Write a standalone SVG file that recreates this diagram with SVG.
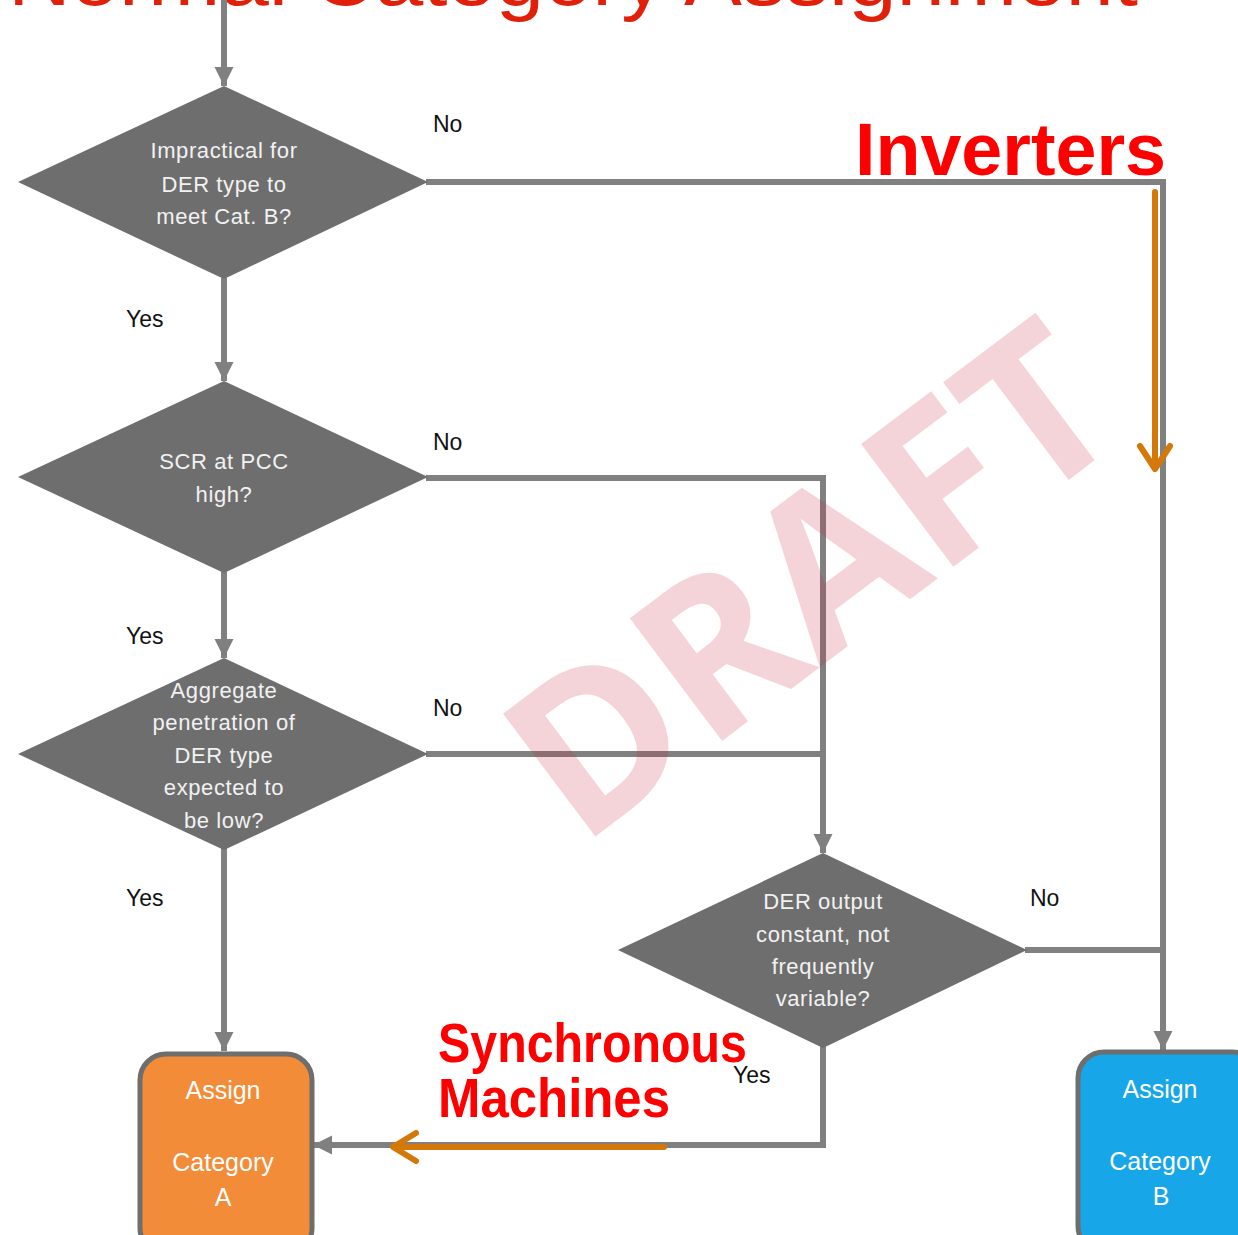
<svg xmlns="http://www.w3.org/2000/svg" width="1238" height="1235" viewBox="0 0 1238 1235">
<defs>
<style>
.dia{fill:#6e6e6e;}
.dt{font-family:"Liberation Sans",Arial,sans-serif;font-size:22px;fill:#f2f2f2;text-anchor:middle;letter-spacing:0.6px;}
.lbl{font-family:"Liberation Sans",Arial,sans-serif;font-size:23px;fill:#111;}
.ln{fill:none;stroke:#808080;stroke-width:6;}
.or{fill:none;stroke:#D4780A;stroke-width:6;stroke-linecap:round;stroke-linejoin:round;}
.red{font-family:"Liberation Sans",Arial,sans-serif;font-weight:bold;fill:#FF0000;}
.bt{font-family:"Liberation Sans",Arial,sans-serif;font-size:25px;fill:#ffffff;text-anchor:middle;}
.box{stroke:#6e6e6e;stroke-width:5;}
</style>
<marker id="ah" viewBox="0 0 10 10" refX="10" refY="5" markerWidth="3.2" markerHeight="3.2" orient="auto" markerUnits="strokeWidth">
<path d="M0,0 L10,5 L0,10 z" fill="#808080"/>
</marker>
</defs>
<rect width="1238" height="1235" fill="#ffffff"/>
<text x="8" y="5" font-family="Liberation Sans,Arial,sans-serif" font-size="80" fill="#E0200A" textLength="1130" lengthAdjust="spacingAndGlyphs">Normal Category Assignment</text>

<g id="connectors">
<line class="ln" x1="224" y1="0" x2="224" y2="86" marker-end="url(#ah)"/>
<polyline class="ln" points="426,182 1163,182 1163,1050" marker-end="url(#ah)"/>
<line class="ln" x1="224" y1="278" x2="224" y2="381" marker-end="url(#ah)"/>
<polyline class="ln" points="426,478 823,478 823,853" marker-end="url(#ah)"/>
<line class="ln" x1="224" y1="572" x2="224" y2="658" marker-end="url(#ah)"/>
<polyline class="ln" points="426,754 823,754"/>
<line class="ln" x1="224" y1="848" x2="224" y2="1051" marker-end="url(#ah)"/>
<polyline class="ln" points="1025,950 1163,950"/>
<polyline class="ln" points="823,1046 823,1145 313,1145" marker-end="url(#ah)"/>
<text class="lbl" x="433" y="132">No</text>
<text class="lbl" x="126" y="327">Yes</text>
<text class="lbl" x="433" y="450">No</text>
<text class="lbl" x="126" y="644">Yes</text>
<text class="lbl" x="433" y="716">No</text>
<text class="lbl" x="126" y="906">Yes</text>
<text class="lbl" x="1030" y="906">No</text>
<text class="lbl" x="733" y="1083">Yes</text>
</g>

<g id="d1">
<polygon class="dia" points="224,86 428,182 224,279 18,182"/>
<text class="dt" x="224" y="158">Impractical for</text>
<text class="dt" x="224" y="192">DER type to</text>
<text class="dt" x="224" y="224">meet Cat. B?</text>
</g>
<g id="d2">
<polygon class="dia" points="224,381 428,477 224,573 18,477"/>
<text class="dt" x="224" y="469">SCR at PCC</text>
<text class="dt" x="224" y="502">high?</text>
</g>
<g id="d3">
<polygon class="dia" points="224,658 428,754 224,850 18,754"/>
<text class="dt" x="224" y="698">Aggregate</text>
<text class="dt" x="224" y="730">penetration of</text>
<text class="dt" x="224" y="763">DER type</text>
<text class="dt" x="224" y="795">expected to</text>
<text class="dt" x="224" y="828">be low?</text>
</g>
<g id="d4">
<polygon class="dia" points="823,853 1027,950 823,1048 618,950"/>
<text class="dt" x="823" y="909">DER output</text>
<text class="dt" x="823" y="942">constant, not</text>
<text class="dt" x="823" y="974">frequently</text>
<text class="dt" x="823" y="1006">variable?</text>
</g>
<g id="catA">
<rect class="box" x="140" y="1054" width="172" height="200" rx="26" fill="#F28C38"/>
<text class="bt" x="223" y="1099">Assign</text>
<text class="bt" x="223" y="1171">Category</text>
<text class="bt" x="223" y="1206">A</text>
</g>
<g id="catB">
<rect class="box" x="1078" y="1052" width="180" height="200" rx="26" fill="#17A6E8"/>
<text class="bt" x="1160" y="1098">Assign</text>
<text class="bt" x="1160" y="1170">Category</text>
<text class="bt" x="1161" y="1205">B</text>
</g>

<g id="annotations">
<line class="or" x1="1155" y1="192" x2="1155" y2="468"/>
<polyline class="or" points="1140,446 1155,469 1170,446"/>
<line class="or" x1="664" y1="1147" x2="394" y2="1147"/>
<polyline class="or" points="416,1133 393,1147 416,1161"/>
<text class="red" x="855" y="175" font-size="74" textLength="311" lengthAdjust="spacingAndGlyphs">Inverters</text>
<text class="red" x="438" y="1062" font-size="56" textLength="309" lengthAdjust="spacingAndGlyphs">Synchronous</text>
<text class="red" x="438" y="1117" font-size="56" textLength="232" lengthAdjust="spacingAndGlyphs">Machines</text>
</g>

<text transform="translate(580,848) rotate(-37)" font-family="Open Sans,Liberation Sans,sans-serif" font-weight="bold" font-size="215" fill="#C8283A" fill-opacity="0.2" textLength="690" lengthAdjust="spacingAndGlyphs">DRAFT</text>
</svg>
